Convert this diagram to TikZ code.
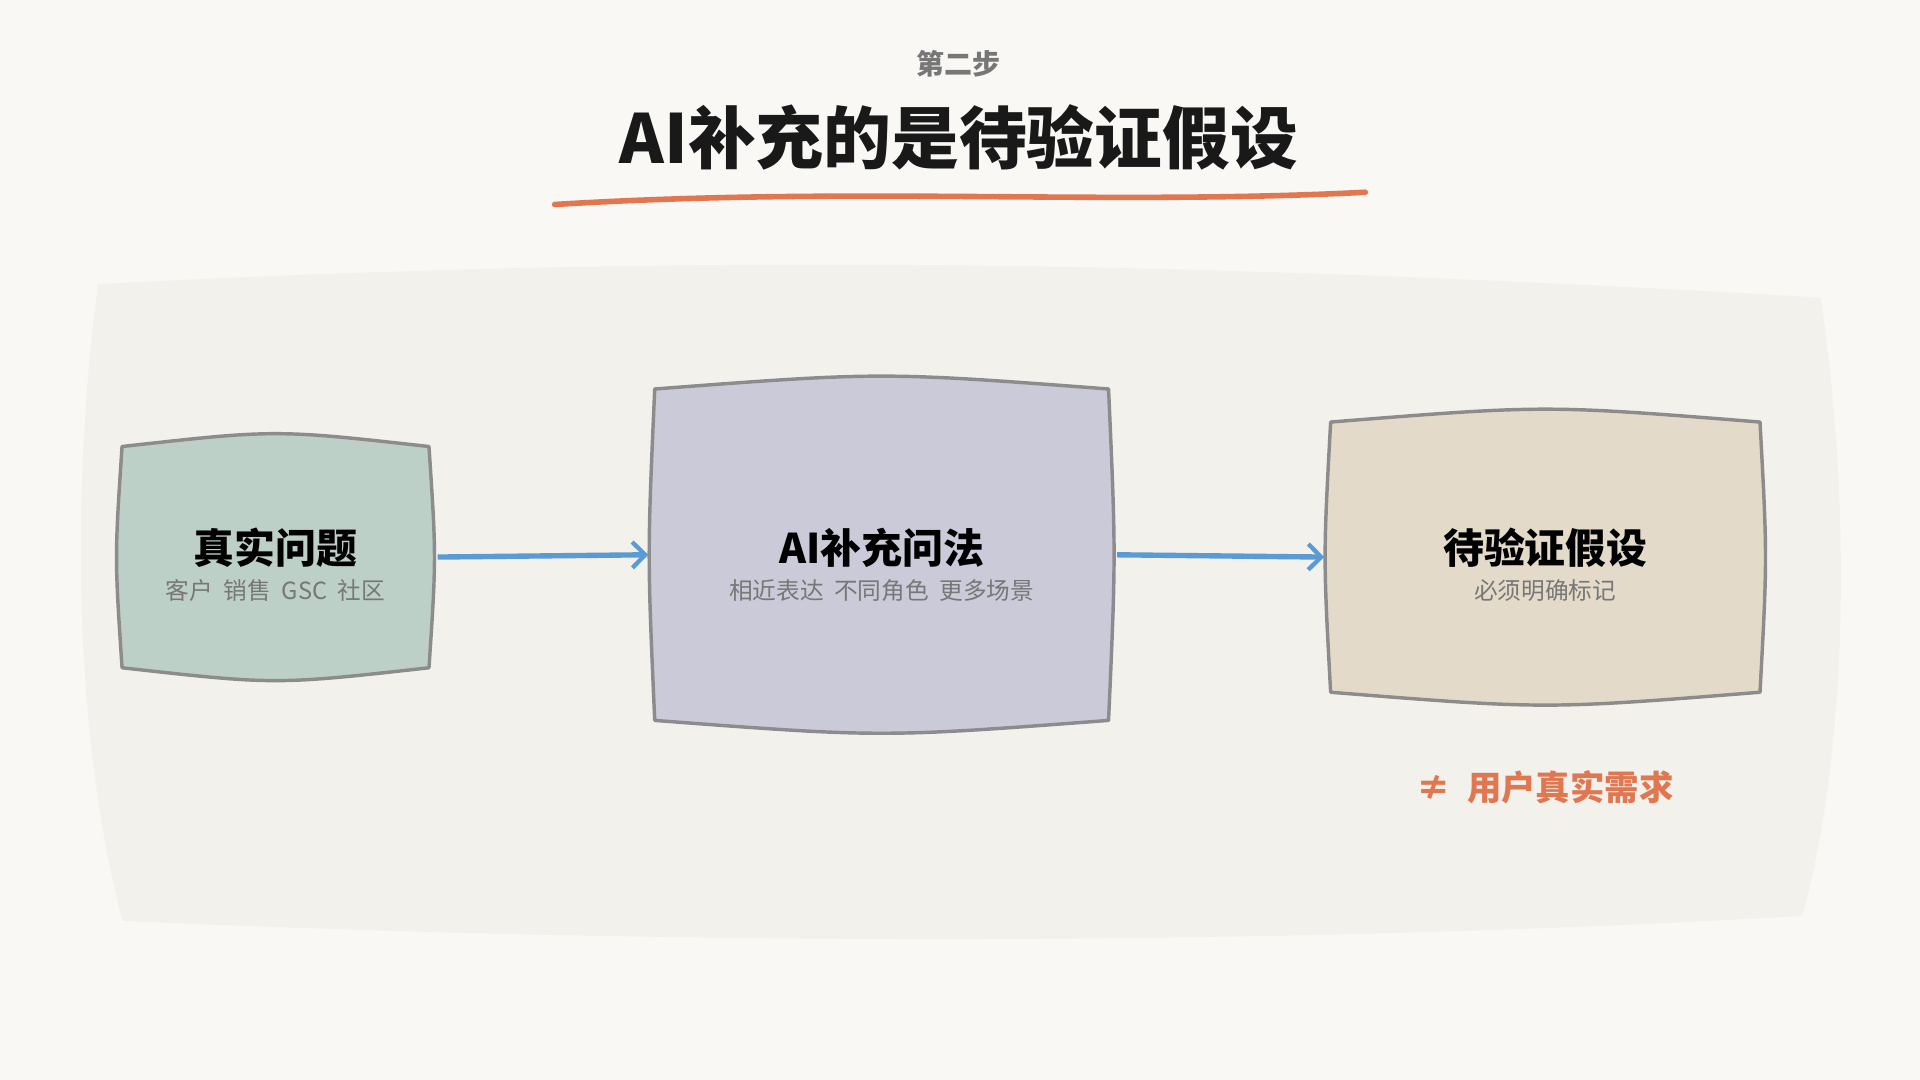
\documentclass[tikz,border=0pt]{standalone}
\usepackage{fontspec}
\setmainfont{Noto Sans CJK SC}
\usetikzlibrary{calc, positioning, arrows.meta}
\definecolor{paper}{HTML}{F9F8F5}
\definecolor{panel}{HTML}{F2F1EC}
\definecolor{accent}{HTML}{E07750}
\definecolor{flowblue}{HTML}{5B9BD5}
\definecolor{edge}{HTML}{8C8C8C}
\definecolor{sage}{HTML}{BCD0C7}
\definecolor{lilac}{HTML}{CACAD9}
\definecolor{sand}{HTML}{E4DACA}
\definecolor{subgray}{HTML}{777777}
\tikzset{
    box/.style={rectangle, draw=none, align=center, inner sep=0pt, font=\bfseries\fontsize{19}{22}\selectfont},
    outline/.style={draw=edge, line width=1.6pt, line join=round},
    flow/.style={-{Straight Barb[length=6pt, width=12pt, line width=2pt]}, flowblue, line width=2.5pt, shorten <=4pt, shorten >=3pt},
    sub/.style={font=\fontsize{11}{13}\selectfont, text=subgray}
}
\newcommand\wobbly[2]{%
    \draw[outline, fill=#2] (#1.north west) .. controls ($(#1.north)+(0,-14)$) .. (#1.north east)
        .. controls ($(#1.east)+(6,0)$) .. (#1.south east)
        .. controls ($(#1.south)+(0,14)$) .. (#1.south west)
        .. controls ($(#1.west)+(-6,0)$) .. cycle;}
\begin{document}
\begin{tikzpicture}[x=0.02cm, y=-0.02cm]
    \fill[paper] (0,0) rectangle (1568,882);
    \useasboundingbox (0,0) rectangle (1568,882);

    % Panel
    \fill[panel] (80,232) .. controls (600,205) and (1000,215) .. (1487,243)
        .. controls (1510,400) and (1512,600) .. (1472,748)
        .. controls (1000,775) and (500,770) .. (100,752)
        .. controls (60,600) and (58,400) .. cycle;

    % Heading
    \node[font=\bfseries\fontsize{13}{15}\selectfont, text=subgray] (step) at (783,52) {第二步};
    \node[font=\bfseries\fontsize{31.5}{36}\selectfont, text=black!90] (title) at (783,112) {AI补充的是待验证假设};
    \draw[accent, line width=2.6pt, line cap=round] (453,167) .. controls (700,152) and (900,168) .. (1115,157);

    % Boxes
    \node[box, minimum width=5.0cm, minimum height=3.6cm] (real) at (225,455) {};
    \node[box, minimum width=7.4cm, minimum height=5.4cm] (ai) at (720,453) {};
    \node[box, minimum width=7.0cm, minimum height=4.4cm] (hypo) at (1262,455) {};
    \wobbly{real}{sage}
    \wobbly{ai}{lilac}
    \wobbly{hypo}{sand}
    \node[box] at (225,447) {真实问题};
    \node[sub] at (225,482) {客户\ \ 销售\ \ GSC\ \ 社区};
    \node[box] at (720,447) {AI补充问法};
    \node[sub] at (720,482) {相近表达\ \ 不同角色\ \ 更多场景};
    \node[box] at (1262,447) {待验证假设};
    \node[sub] at (1262,482) {必须明确标记};

    % Connectors
    \draw[flow] (real.east) -- (ai.west);
    \draw[flow] (ai.east) -- (hypo.west);

    \node[font=\bfseries\fontsize{16}{19}\selectfont, text=accent] (note) at (1262,643) {≠\ \ 用户真实需求};
\end{tikzpicture}
\end{document}
